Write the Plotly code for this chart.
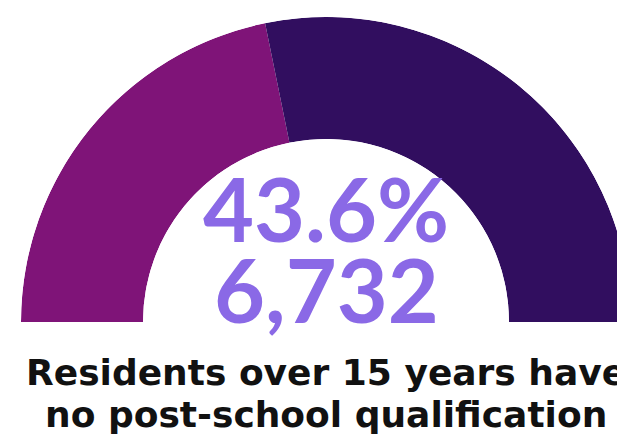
"""
Half-donut gauge: residents over 15 with no post-school qualification
"""

import plotly.graph_objects as go

# data
segments = ["No post-school qualification", "Other residents"]
shares = [43.6, 56.4]          # percent of residents over 15
count_no_qual = 6732
title_lines = ["Residents over 15 years have", "no post-school qualification"]

colors = ["#7F1478", "#310E5F"]
number_color = "#8A69E6"

W, H = 652, 441
CX, CY = 326, 322      # gauge centre in pixels
R_OUT = 305

# bars laid out along a 180 degree sector, starting on the left
widths = [s * 180 / 100 for s in shares]
thetas = []
start = 0
for w in widths:
    thetas.append(start + w / 2)
    start += w

fig = go.Figure()

fig.add_trace(
    go.Barpolar(
        r=[1] * len(shares),
        theta=thetas,
        width=widths,
        base=0,
        marker=dict(color=colors, line=dict(width=0)),
        text=segments,
        hoverinfo="text",
        showlegend=False,
    )
)

fig.update_layout(
    width=W,
    height=H,
    autosize=False,
    margin=dict(l=0, r=0, t=0, b=0),
    paper_bgcolor="white",
    plot_bgcolor="white",
    showlegend=False,
    polar=dict(
        domain=dict(
            x=[(CX - R_OUT) / W, (CX + R_OUT) / W],
            y=[1 - CY / H, 1 - (CY - R_OUT) / H],
        ),
        sector=[0, 180],
        hole=0.6,
        bgcolor="white",
        radialaxis=dict(range=[0, 1], visible=False, showgrid=False),
        angularaxis=dict(
            rotation=180,
            direction="clockwise",
            visible=False,
            showgrid=False,
        ),
    ),
)

big_font = dict(family="Lato, sans-serif", size=88, color=number_color)
label_font = dict(family="DejaVu Sans, sans-serif", size=36, color="#111111")

# centre numbers
fig.add_annotation(
    text=f"<b>{shares[0]:.1f}%</b>", x=CX / W, y=1 - 208 / H,
    xref="paper", yref="paper", xanchor="center", yanchor="middle",
    showarrow=False, font=big_font,
)
fig.add_annotation(
    text=f"<b>{count_no_qual:,}</b>", x=CX / W, y=1 - 289 / H,
    xref="paper", yref="paper", xanchor="center", yanchor="middle",
    showarrow=False, font=big_font,
)

# label under the gauge
for line, yc in zip(title_lines, [372, 414]):
    fig.add_annotation(
        text=f"<b>{line}</b>", x=CX / W, y=1 - yc / H,
        xref="paper", yref="paper", xanchor="center", yanchor="middle",
        showarrow=False, font=label_font,
    )

fig.write_html(
    "out.html",
    config={"displayModeBar": False},
    post_script="document.body.style.margin = '0px';",
)
